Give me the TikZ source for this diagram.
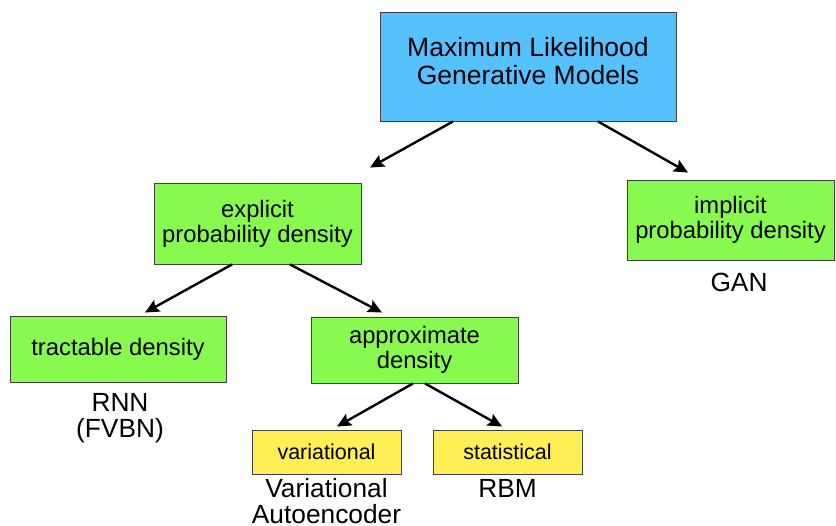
\documentclass[tikz,border=0pt]{standalone}
\usepackage{fontspec}
\setmainfont{Liberation Sans}
\usetikzlibrary{arrows.meta}
\definecolor{rootblue}{HTML}{56C1FF}
\definecolor{leafgreen}{HTML}{88F94F}
\definecolor{methodyellow}{HTML}{FFEE55}
\definecolor{edgegray}{HTML}{404040}
\begin{document}
\begin{tikzpicture}[x=1pt,y=-1pt,
  box/.style={draw=edgegray,line width=0.9pt,inner sep=0pt,align=center,text=black},
  rootbox/.style={box,fill=rootblue,minimum width=296pt,minimum height=109pt,
    font=\fontsize{26.5}{27.5}\selectfont},
  densbox/.style={box,fill=leafgreen,minimum width=207pt,
    font=\fontsize{23.8}{25}\selectfont},
  kindbox/.style={box,fill=methodyellow,minimum width=149pt,minimum height=44pt,
    font=\fontsize{21.5}{23}\selectfont},
  example/.style={anchor=base,inner sep=0pt,font=\fontsize{26.3}{27}\selectfont},
  branch/.style={line width=2.4pt,-{Stealth[length=14pt,width=13pt,inset=2.5pt]}}]
\useasboundingbox (0,0) rectangle (836,526);

% boxes
\node[rootbox] (root) at (528,66.5) {Maximum Likelihood\\Generative Models\rule[-11pt]{0pt}{0pt}};
\node[densbox,minimum height=81pt] (expl) at (257.5,223.5) {explicit\\probability density};
\node[densbox,minimum height=80pt] (impl) at (730.5,220) {implicit\\probability density};
\node[densbox,minimum width=216pt,minimum height=66pt] (tract) at (118,349) {tractable density};
\node[densbox,minimum height=66pt] (approx) at (414.5,350) {approximate\\density};
\node[kindbox] (var) at (326.5,452) {variational};
\node[kindbox] (stat) at (507.5,452) {statistical};

% example models
\node[example] (gan) at (739,292) {GAN};
\node[example] (rnn) at (120,412) {RNN};
\node[example] (fvbn) at (120,438) {(FVBN)};
\node[example] (vae1) at (326.5,498) {Variational};
\node[example] (vae2) at (326.5,524) {Autoencoder};
\node[example] (rbm) at (507.5,498) {RBM};

% branches
\draw[branch] ([xshift=-75pt]root.south) -- ([xshift=112.5pt,yshift=15pt]expl.north);
\draw[branch] ([xshift=70pt]root.south) -- ([xshift=-42.5pt,yshift=7pt]impl.north);
\draw[branch] ([xshift=-25.5pt]expl.south) -- ([xshift=27pt,yshift=3pt]tract.north);
\draw[branch] ([xshift=32.5pt]expl.south) -- ([xshift=-32.5pt,yshift=4pt]approx.north);
\draw[branch] ([xshift=-1.5pt]approx.south) -- ([xshift=10.5pt,yshift=3pt]var.north);
\draw[branch] ([xshift=10.5pt]approx.south) -- ([xshift=-5.5pt,yshift=3pt]stat.north);
\end{tikzpicture}
\end{document}
